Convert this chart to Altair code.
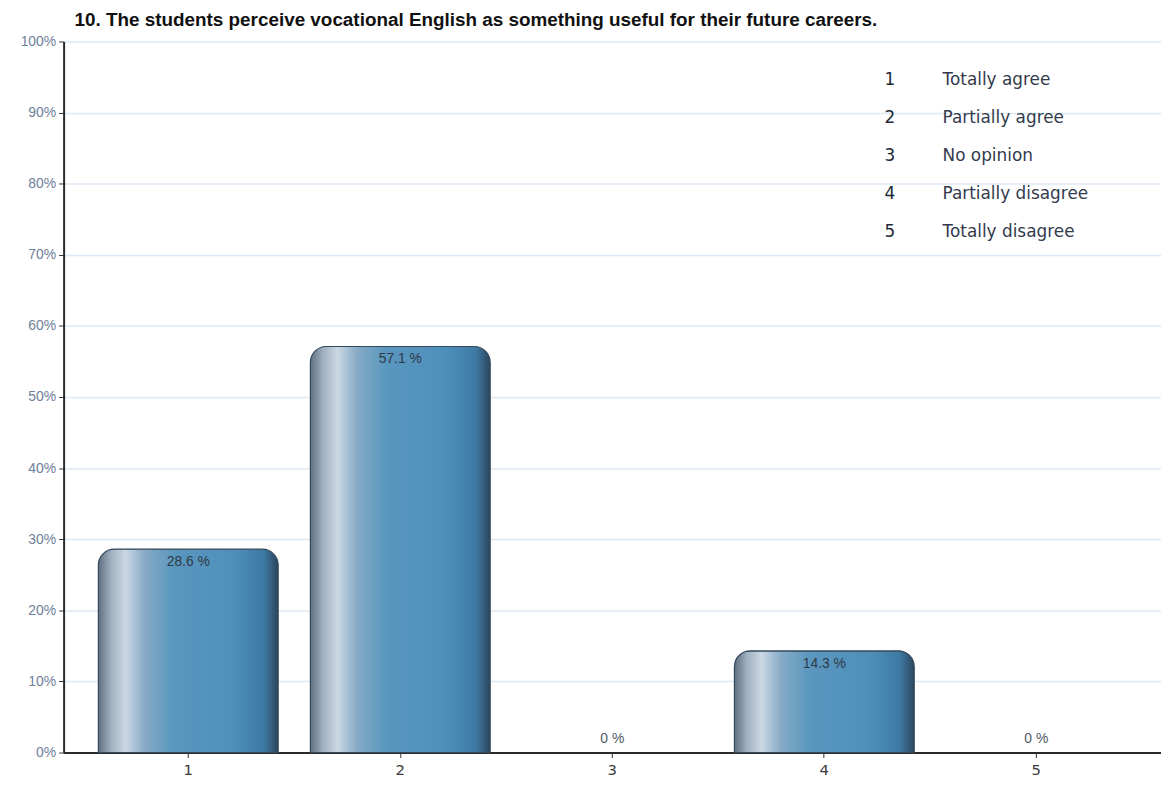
import altair as alt
import pandas as pd

categories = ["1", "2", "3", "4", "5"]
values = [28.6, 57.1, 0, 14.3, 0]
bar_labels = ["28.6 %", "57.1 %", "0 %", "14.3 %", "0 %"]
legend_nums = ["1", "2", "3", "4", "5"]
legend_texts = ["Totally agree", "Partially agree", "No opinion", "Partially disagree", "Totally disagree"]
title_text = "10. The students perceive vocational English as something useful for their future careers."

df = pd.DataFrame({"cat": categories, "val": values, "lab": bar_labels})
leg = pd.DataFrame({"num": legend_nums, "txt": legend_texts})

W, H = 1105, 716

xenc = alt.X("cat:N", sort=categories,
             scale=alt.Scale(paddingInner=0.152, paddingOuter=0.164),
             axis=alt.Axis(title=None, labelAngle=0, labelColor="#3a3a3a", labelFontSize=15,
                           labelFont="DejaVu Sans", tickColor="#333333", tickSize=5,
                           domainColor="#2a2a2a", domainWidth=2, grid=False, labelPadding=5))
yenc = alt.Y("val:Q", scale=alt.Scale(domain=[0, 100], nice=False),
             axis=alt.Axis(title=None, values=list(range(0, 101, 10)),
                           labelExpr="datum.value + '%'", labelColor="#6d8099",
                           labelFontSize=14, labelFont="Liberation Sans",
                           tickColor="#333333", tickSize=5, domainColor="#2a2a2a",
                           domainWidth=2, gridColor="#dde9f5", gridWidth=1.5, labelPadding=3))

grad = alt.Gradient(
    gradient="linear", x1=0, x2=1, y1=0, y2=0,
    stops=[
        alt.GradientStop(color="#5f6f80", offset=0),
        alt.GradientStop(color="#a0b0c0", offset=0.07),
        alt.GradientStop(color="#cbd8e4", offset=0.15),
        alt.GradientStop(color="#86aac6", offset=0.26),
        alt.GradientStop(color="#5a97bf", offset=0.42),
        alt.GradientStop(color="#4e8fba", offset=0.75),
        alt.GradientStop(color="#3d7aa3", offset=0.92),
        alt.GradientStop(color="#2c465d", offset=1),
    ],
)

bars = alt.Chart(df).transform_filter("datum.val > 0").mark_bar(
    color=grad, stroke="#34495c", strokeWidth=1.2,
    cornerRadiusTopLeft=16, cornerRadiusTopRight=16
).encode(x=xenc, y=yenc)

labels_in = alt.Chart(df).transform_filter("datum.val > 0").mark_text(
    baseline="top", dy=6, fontSize=14, font="Liberation Sans", color="#2f3a48"
).encode(x=xenc, y=yenc, text="lab:N")

labels_zero = alt.Chart(df).transform_filter("datum.val == 0").mark_text(
    baseline="bottom", dy=-7, fontSize=14, font="Liberation Sans", color="#4f5a66"
).encode(x=xenc, y=yenc, text="lab:N")

ly = alt.Y("num:O", axis=None, scale=alt.Scale(type="point", range=[39, 192], padding=0))
leg_num = alt.Chart(leg).mark_text(
    align="center", baseline="middle", fontSize=17, font="DejaVu Sans", color="#222a36"
).encode(x=alt.value(832), y=ly, text="num:N")
leg_txt = alt.Chart(leg).mark_text(
    align="left", baseline="middle", fontSize=17, font="DejaVu Sans", color="#333b4d"
).encode(x=alt.value(885), y=ly, text="txt:N")

main = alt.layer(bars, labels_in, labels_zero)
chart = alt.layer(main, leg_num, leg_txt).resolve_scale(y="independent").properties(
    width=W, height=H,
    title=alt.TitleParams(title_text, anchor="start", frame="group", dx=11, offset=5,
                          fontSize=19, font="Liberation Sans", fontWeight="bold",
                          color="#111111"),
    autosize=alt.AutoSizeParams(type="none"),
    padding={"left": 56, "top": 31, "right": 0, "bottom": 32},
).configure_view(stroke=None).configure_axisX(grid=False)

chart.save("out.html", embed_options={"renderer": "svg", "actions": False})
